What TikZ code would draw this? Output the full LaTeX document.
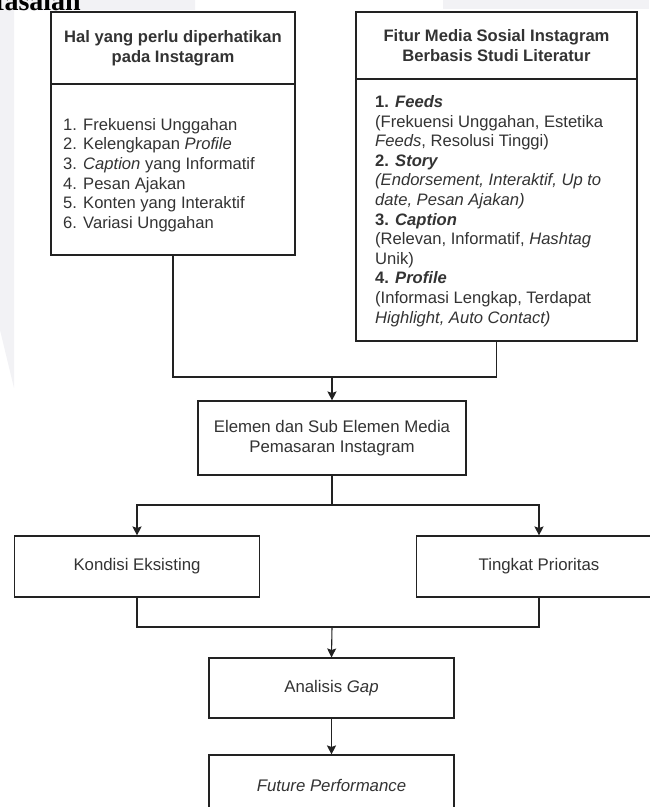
\documentclass[tikz,border=0pt]{standalone}
\usepackage{fontspec}
\setmainfont{Liberation Sans}
\newfontfamily\timesb{Liberation Serif}
\usetikzlibrary{arrows.meta}
\definecolor{txt}{HTML}{333333}
\definecolor{ln}{HTML}{222222}
\definecolor{wm}{RGB}{242,242,245}
\begin{document}
\begin{tikzpicture}[x=1pt,y=-1pt,
 box/.style={draw=ln, line width=1.1pt, fill=white, inner sep=0pt, text=txt, font=\fontsize{16.8}{19.5}\selectfont, align=center},
 listtext/.style={anchor=west, inner sep=0pt, text=txt, align=left, font=\fontsize{16.6}{19.6}\selectfont},
 conn/.style={draw=ln, line width=1.1pt},
 arr/.style={conn, -{Stealth[length=9pt,width=9pt,inset=1.5pt]}},
]
\useasboundingbox (0,0) rectangle (649,807);
\fill[wm] (0,0) -- (195,0) -- (195,10) -- (14,10) -- (14,388) -- (0,330) -- cycle;
\fill[wm] (443,0) rectangle (649,9);
\node[anchor=base east, font=\timesb\bfseries\fontsize{28}{30}\selectfont, inner sep=0pt] (mas) at (81,10) {Masalah};

% left box
\node[box, font=\fontsize{16.6}{19.5}\selectfont\bfseries, minimum width=244, minimum height=72] (hL) at (173,48) {Hal yang perlu diperhatikan\\pada Instagram};
\node[box, minimum width=244, minimum height=171] (bL) at (173,169.5) {};
\node[listtext] (tL) at (63,175) {1. Frekuensi Unggahan\\
2. Kelengkapan \textit{Profile}\\
3. \textit{Caption} yang Informatif\\
4. Pesan Ajakan\\
5. Konten yang Interaktif\\
6. Variasi Unggahan};

% right box
\node[box, font=\fontsize{16.6}{19.5}\selectfont\bfseries, minimum width=281, minimum height=67] (hR) at (496.5,45.5) {Fitur Media Sosial Instagram\\Berbasis Studi Literatur};
\node[box, minimum width=281, minimum height=262] (bR) at (496.5,210) {};
\node[listtext] (tR) at (375,211) {\textbf{1. \textit{Feeds}}\\
(Frekuensi Unggahan, Estetika\\
\textit{Feeds}, Resolusi Tinggi)\\
\textbf{2. \textit{Story}}\\
\textit{(Endorsement, Interaktif, Up to}\\
\textit{date, Pesan Ajakan)}\\
\textbf{3. \textit{Caption}}\\
(Relevan, Informatif, \textit{Hashtag}\\
Unik)\\
\textbf{4. \textit{Profile}}\\
(Informasi Lengkap, Terdapat\\
\textit{Highlight, Auto Contact)}};

% lower boxes
\node[box, minimum width=268, minimum height=74] (el) at (332,438) {Elemen dan Sub Elemen Media\\Pemasaran Instagram};
\node[box, minimum width=245, minimum height=61] (kd) at (137,566.5) {Kondisi Eksisting};
\node[box, minimum width=245, minimum height=61] (tk) at (539,566.5) {Tingkat Prioritas};
\node[box, minimum width=245, minimum height=60] (an) at (331.5,688) {Analisis \textit{Gap}};
\node[box, minimum width=245, minimum height=60] (fu) at (331.5,785) {\textit{Future Performance}};

% connectors
\coordinate (j1) at (332,377);
\draw[conn] (bL.south) |- (j1);
\draw[conn] (bR.south) |- (j1);
\draw[arr] (j1) -- (el.north);
\coordinate (j2) at (332,505);
\draw[conn] (el.south) -- (j2);
\draw[arr] (j2) -| (kd.north);
\draw[arr] (j2) -| (tk.north);
\coordinate (j3) at (332,627);
\draw[conn] (kd.south) |- (j3);
\draw[conn] (tk.south) |- (j3);
\draw[arr] (j3) -- (an.north);
\draw[arr] (an.south) -- (fu.north);
\end{tikzpicture}
\end{document}
